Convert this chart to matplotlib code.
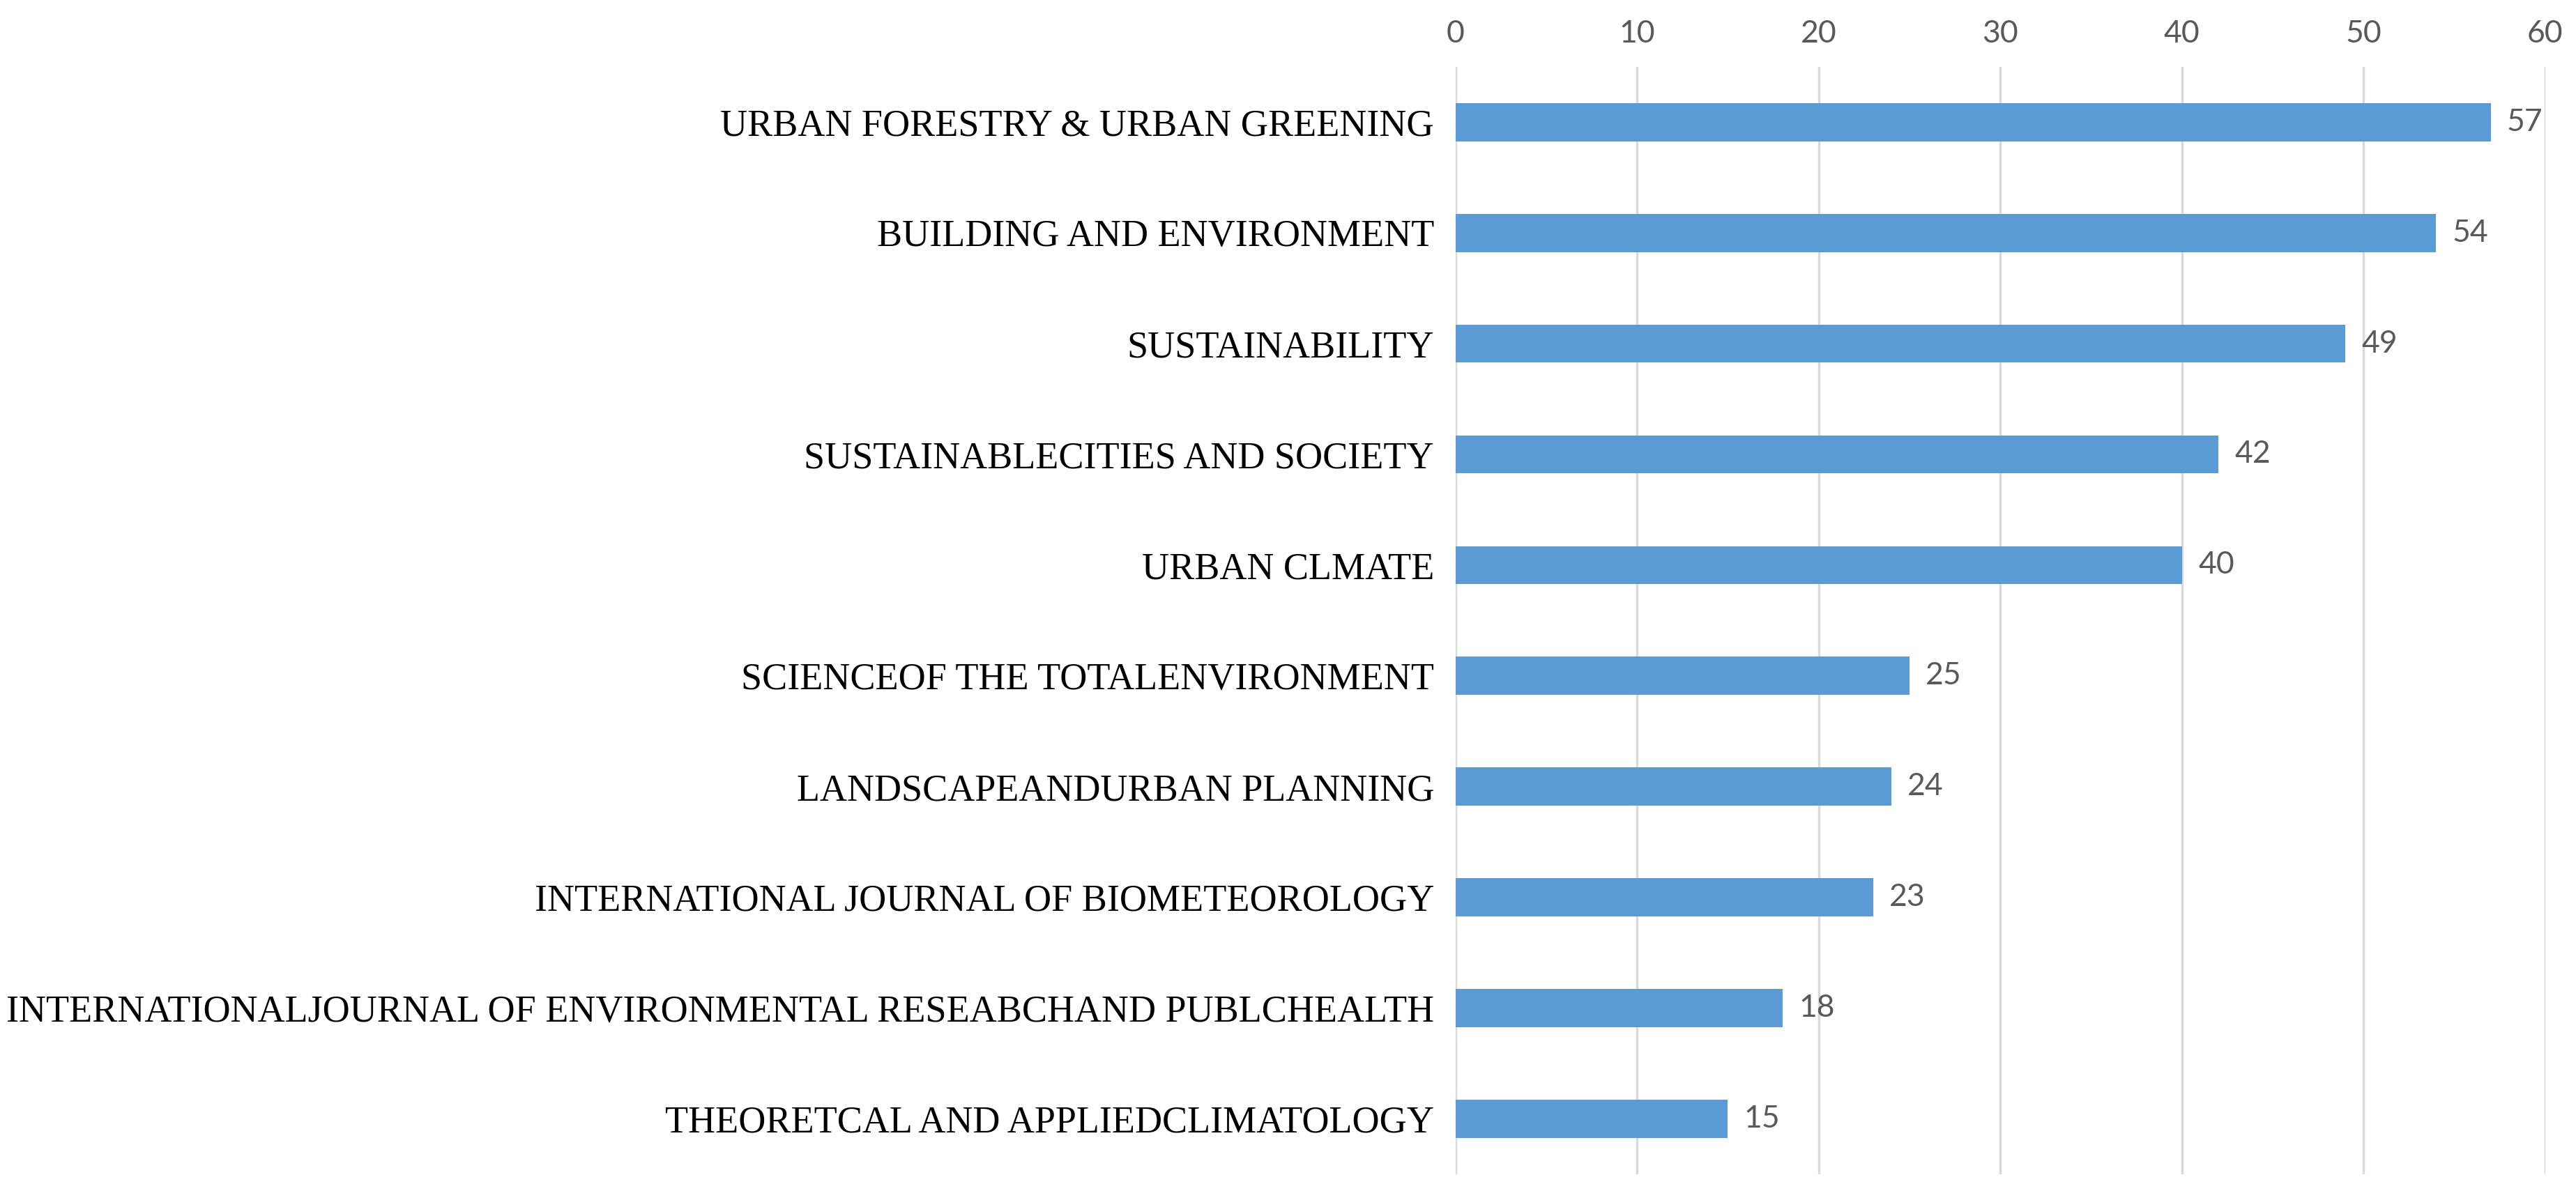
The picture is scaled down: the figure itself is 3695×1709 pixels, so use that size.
import matplotlib.pyplot as plt
import numpy as np

# data (top to bottom as in the chart)
journals = [
    "URBAN FORESTRY & URBAN GREENING",
    "BUILDING AND ENVIRONMENT",
    "SUSTAINABILITY",
    "SUSTAINABLECITIES AND SOCIETY",
    "URBAN CLMATE",
    "SCIENCEOF THE TOTALENVIRONMENT",
    "LANDSCAPEANDURBAN PLANNING",
    "INTERNATIONAL JOURNAL OF BIOMETEOROLOGY",
    "INTERNATIONALJOURNAL OF ENVIRONMENTAL RESEABCHAND PUBLCHEALTH",
    "THEORETCAL AND APPLIEDCLIMATOLOGY",
]
counts = [57, 54, 49, 42, 40, 25, 24, 23, 18, 15]
x_ticks = [0, 10, 20, 30, 40, 50, 60]

BAR_COLOR = "#5B9BD5"
GRID_COLOR = "#D9D9D9"
TEXT_GRAY = "#595959"
NUM_FONT = ["Liberation Sans Narrow", "Lato"]

fig = plt.figure(figsize=(36.95, 17.09), dpi=100)
ax = fig.add_axes([0.565, 0.014, 0.423, 0.930])

y = np.arange(len(journals))
ax.barh(y, counts, height=0.345, color=BAR_COLOR, zorder=3)

for yi, v in zip(y, counts):
    ax.text(v + 0.9, yi, str(v), va="center", ha="left",
            fontsize=32, color=TEXT_GRAY, family=NUM_FONT)

ax.set_xlim(0, 60)
ax.set_ylim(len(journals) - 0.5, -0.5)
ax.set_xticks(x_ticks)
ax.xaxis.tick_top()
ax.tick_params(axis="x", length=0, pad=19, labelsize=32, labelcolor=TEXT_GRAY)
for lab in ax.get_xticklabels():
    lab.set_family(NUM_FONT)

ax.set_yticks(y)
ax.set_yticklabels(journals, family="Liberation Serif", fontsize=39)
ax.tick_params(axis="y", length=0, pad=22)

ax.grid(axis="x", color=GRID_COLOR, linewidth=2.5, zorder=0)
for s in ax.spines.values():
    s.set_visible(False)

fig.savefig("out.png", dpi=100)
